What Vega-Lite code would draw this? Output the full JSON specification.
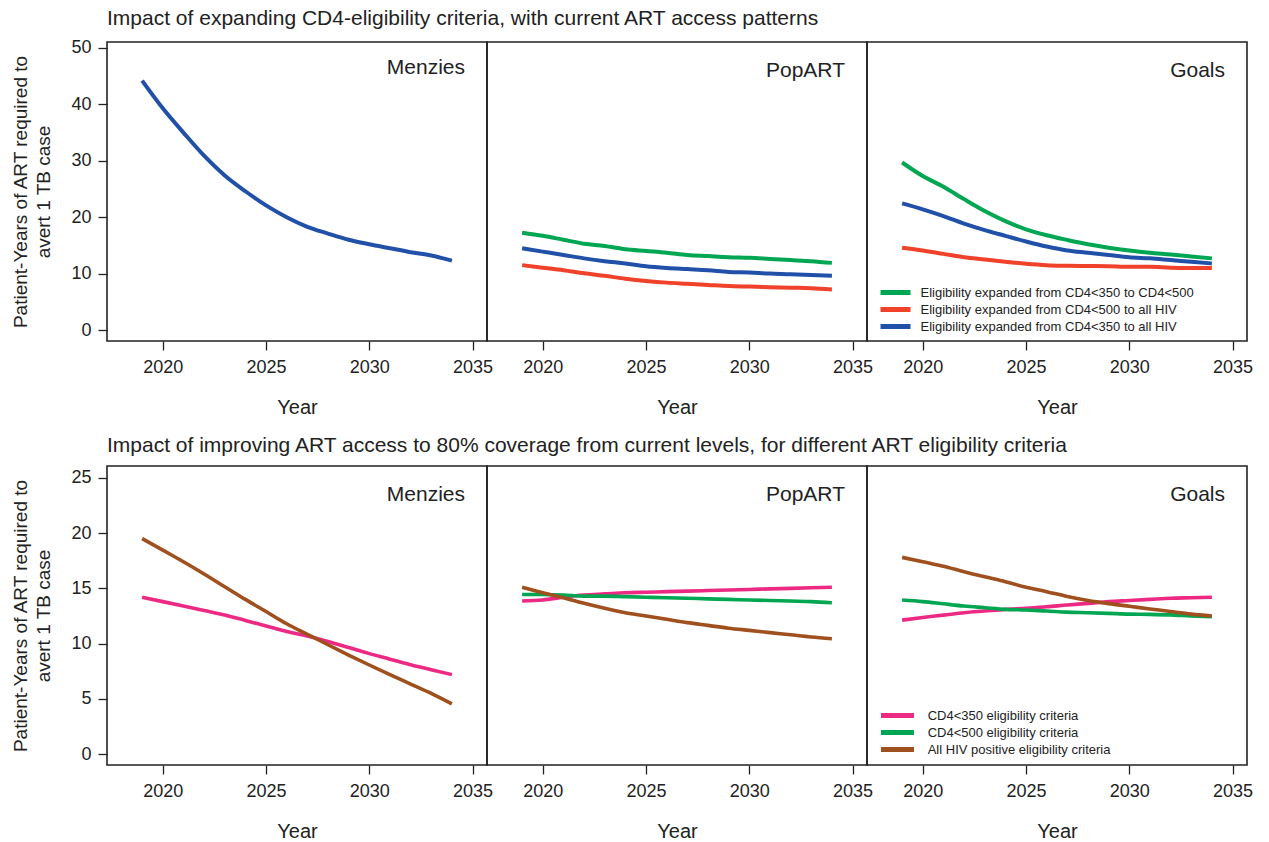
{
  "$schema": "https://vega.github.io/schema/vega-lite/v6.json",
  "padding": {"left": 11, "top": 8, "right": 6, "bottom": 0},
  "background": "white",
  "config": {
    "font": "Liberation Sans",
    "view": {"stroke": "#222222", "strokeWidth": 1.6},
    "title": {"font": "Liberation Sans", "fontWeight": "normal", "color": "#222222"},
    "axis": {"grid": false, "domain": false, "tickSize": 9, "tickColor": "#222222", "tickWidth": 1.3, "labelFont": "Liberation Sans", "labelFontSize": 18, "labelColor": "#222222", "labelFlush": false, "titleFont": "Liberation Sans", "titleFontWeight": "normal", "titleColor": "#222222"},
    "axisX": {"labelPadding": 8, "titleFontSize": 20, "titlePadding": 21},
    "axisY": {"labelPadding": 7, "titleFontSize": 19, "titlePadding": 17, "titleLineHeight": 23},
    "legend": {"labelFont": "Liberation Sans", "labelColor": "#222222", "labelLimit": 400}
  },
  "datasets": {
    "topMenzies": [
      {"series": "Eligibility expanded from CD4<350 to all HIV", "year": 2019, "value": 44.2},
      {"series": "Eligibility expanded from CD4<350 to all HIV", "year": 2020, "value": 39.3},
      {"series": "Eligibility expanded from CD4<350 to all HIV", "year": 2021, "value": 35.0},
      {"series": "Eligibility expanded from CD4<350 to all HIV", "year": 2022, "value": 30.9},
      {"series": "Eligibility expanded from CD4<350 to all HIV", "year": 2023, "value": 27.4},
      {"series": "Eligibility expanded from CD4<350 to all HIV", "year": 2024, "value": 24.6},
      {"series": "Eligibility expanded from CD4<350 to all HIV", "year": 2025, "value": 22.1},
      {"series": "Eligibility expanded from CD4<350 to all HIV", "year": 2026, "value": 20.0},
      {"series": "Eligibility expanded from CD4<350 to all HIV", "year": 2027, "value": 18.3},
      {"series": "Eligibility expanded from CD4<350 to all HIV", "year": 2028, "value": 17.1},
      {"series": "Eligibility expanded from CD4<350 to all HIV", "year": 2029, "value": 16.0},
      {"series": "Eligibility expanded from CD4<350 to all HIV", "year": 2030, "value": 15.2},
      {"series": "Eligibility expanded from CD4<350 to all HIV", "year": 2031, "value": 14.5},
      {"series": "Eligibility expanded from CD4<350 to all HIV", "year": 2032, "value": 13.8},
      {"series": "Eligibility expanded from CD4<350 to all HIV", "year": 2033, "value": 13.2},
      {"series": "Eligibility expanded from CD4<350 to all HIV", "year": 2034, "value": 12.3}
    ],
    "topPopART": [
      {"series": "Eligibility expanded from CD4<350 to CD4<500", "year": 2019, "value": 17.25},
      {"series": "Eligibility expanded from CD4<350 to CD4<500", "year": 2020, "value": 16.7},
      {"series": "Eligibility expanded from CD4<350 to CD4<500", "year": 2021, "value": 16.0},
      {"series": "Eligibility expanded from CD4<350 to CD4<500", "year": 2022, "value": 15.3},
      {"series": "Eligibility expanded from CD4<350 to CD4<500", "year": 2023, "value": 14.9},
      {"series": "Eligibility expanded from CD4<350 to CD4<500", "year": 2024, "value": 14.3},
      {"series": "Eligibility expanded from CD4<350 to CD4<500", "year": 2025, "value": 14.0},
      {"series": "Eligibility expanded from CD4<350 to CD4<500", "year": 2026, "value": 13.7},
      {"series": "Eligibility expanded from CD4<350 to CD4<500", "year": 2027, "value": 13.3},
      {"series": "Eligibility expanded from CD4<350 to CD4<500", "year": 2028, "value": 13.1},
      {"series": "Eligibility expanded from CD4<350 to CD4<500", "year": 2029, "value": 12.9},
      {"series": "Eligibility expanded from CD4<350 to CD4<500", "year": 2030, "value": 12.8},
      {"series": "Eligibility expanded from CD4<350 to CD4<500", "year": 2031, "value": 12.6},
      {"series": "Eligibility expanded from CD4<350 to CD4<500", "year": 2032, "value": 12.4},
      {"series": "Eligibility expanded from CD4<350 to CD4<500", "year": 2033, "value": 12.2},
      {"series": "Eligibility expanded from CD4<350 to CD4<500", "year": 2034, "value": 11.9},
      {"series": "Eligibility expanded from CD4<500 to all HIV", "year": 2019, "value": 11.5},
      {"series": "Eligibility expanded from CD4<500 to all HIV", "year": 2020, "value": 11.05},
      {"series": "Eligibility expanded from CD4<500 to all HIV", "year": 2021, "value": 10.6},
      {"series": "Eligibility expanded from CD4<500 to all HIV", "year": 2022, "value": 10.05},
      {"series": "Eligibility expanded from CD4<500 to all HIV", "year": 2023, "value": 9.6},
      {"series": "Eligibility expanded from CD4<500 to all HIV", "year": 2024, "value": 9.1},
      {"series": "Eligibility expanded from CD4<500 to all HIV", "year": 2025, "value": 8.7},
      {"series": "Eligibility expanded from CD4<500 to all HIV", "year": 2026, "value": 8.4},
      {"series": "Eligibility expanded from CD4<500 to all HIV", "year": 2027, "value": 8.2},
      {"series": "Eligibility expanded from CD4<500 to all HIV", "year": 2028, "value": 8.0},
      {"series": "Eligibility expanded from CD4<500 to all HIV", "year": 2029, "value": 7.8},
      {"series": "Eligibility expanded from CD4<500 to all HIV", "year": 2030, "value": 7.7},
      {"series": "Eligibility expanded from CD4<500 to all HIV", "year": 2031, "value": 7.6},
      {"series": "Eligibility expanded from CD4<500 to all HIV", "year": 2032, "value": 7.5},
      {"series": "Eligibility expanded from CD4<500 to all HIV", "year": 2033, "value": 7.4},
      {"series": "Eligibility expanded from CD4<500 to all HIV", "year": 2034, "value": 7.2},
      {"series": "Eligibility expanded from CD4<350 to all HIV", "year": 2019, "value": 14.5},
      {"series": "Eligibility expanded from CD4<350 to all HIV", "year": 2020, "value": 13.9},
      {"series": "Eligibility expanded from CD4<350 to all HIV", "year": 2021, "value": 13.3},
      {"series": "Eligibility expanded from CD4<350 to all HIV", "year": 2022, "value": 12.7},
      {"series": "Eligibility expanded from CD4<350 to all HIV", "year": 2023, "value": 12.2},
      {"series": "Eligibility expanded from CD4<350 to all HIV", "year": 2024, "value": 11.8},
      {"series": "Eligibility expanded from CD4<350 to all HIV", "year": 2025, "value": 11.3},
      {"series": "Eligibility expanded from CD4<350 to all HIV", "year": 2026, "value": 11.0},
      {"series": "Eligibility expanded from CD4<350 to all HIV", "year": 2027, "value": 10.8},
      {"series": "Eligibility expanded from CD4<350 to all HIV", "year": 2028, "value": 10.6},
      {"series": "Eligibility expanded from CD4<350 to all HIV", "year": 2029, "value": 10.3},
      {"series": "Eligibility expanded from CD4<350 to all HIV", "year": 2030, "value": 10.2},
      {"series": "Eligibility expanded from CD4<350 to all HIV", "year": 2031, "value": 10.0},
      {"series": "Eligibility expanded from CD4<350 to all HIV", "year": 2032, "value": 9.9},
      {"series": "Eligibility expanded from CD4<350 to all HIV", "year": 2033, "value": 9.75},
      {"series": "Eligibility expanded from CD4<350 to all HIV", "year": 2034, "value": 9.6}
    ],
    "topGoals": [
      {"series": "Eligibility expanded from CD4<350 to CD4<500", "year": 2019, "value": 29.7},
      {"series": "Eligibility expanded from CD4<350 to CD4<500", "year": 2020, "value": 27.3},
      {"series": "Eligibility expanded from CD4<350 to CD4<500", "year": 2021, "value": 25.4},
      {"series": "Eligibility expanded from CD4<350 to CD4<500", "year": 2022, "value": 23.2},
      {"series": "Eligibility expanded from CD4<350 to CD4<500", "year": 2023, "value": 21.1},
      {"series": "Eligibility expanded from CD4<350 to CD4<500", "year": 2024, "value": 19.3},
      {"series": "Eligibility expanded from CD4<350 to CD4<500", "year": 2025, "value": 17.85},
      {"series": "Eligibility expanded from CD4<350 to CD4<500", "year": 2026, "value": 16.8},
      {"series": "Eligibility expanded from CD4<350 to CD4<500", "year": 2027, "value": 15.96},
      {"series": "Eligibility expanded from CD4<350 to CD4<500", "year": 2028, "value": 15.2},
      {"series": "Eligibility expanded from CD4<350 to CD4<500", "year": 2029, "value": 14.6},
      {"series": "Eligibility expanded from CD4<350 to CD4<500", "year": 2030, "value": 14.1},
      {"series": "Eligibility expanded from CD4<350 to CD4<500", "year": 2031, "value": 13.7},
      {"series": "Eligibility expanded from CD4<350 to CD4<500", "year": 2032, "value": 13.4},
      {"series": "Eligibility expanded from CD4<350 to CD4<500", "year": 2033, "value": 13.05},
      {"series": "Eligibility expanded from CD4<350 to CD4<500", "year": 2034, "value": 12.7},
      {"series": "Eligibility expanded from CD4<500 to all HIV", "year": 2019, "value": 14.6},
      {"series": "Eligibility expanded from CD4<500 to all HIV", "year": 2020, "value": 14.1},
      {"series": "Eligibility expanded from CD4<500 to all HIV", "year": 2021, "value": 13.5},
      {"series": "Eligibility expanded from CD4<500 to all HIV", "year": 2022, "value": 12.9},
      {"series": "Eligibility expanded from CD4<500 to all HIV", "year": 2023, "value": 12.5},
      {"series": "Eligibility expanded from CD4<500 to all HIV", "year": 2024, "value": 12.1},
      {"series": "Eligibility expanded from CD4<500 to all HIV", "year": 2025, "value": 11.75},
      {"series": "Eligibility expanded from CD4<500 to all HIV", "year": 2026, "value": 11.5},
      {"series": "Eligibility expanded from CD4<500 to all HIV", "year": 2027, "value": 11.4},
      {"series": "Eligibility expanded from CD4<500 to all HIV", "year": 2028, "value": 11.35},
      {"series": "Eligibility expanded from CD4<500 to all HIV", "year": 2029, "value": 11.3},
      {"series": "Eligibility expanded from CD4<500 to all HIV", "year": 2030, "value": 11.2},
      {"series": "Eligibility expanded from CD4<500 to all HIV", "year": 2031, "value": 11.2},
      {"series": "Eligibility expanded from CD4<500 to all HIV", "year": 2032, "value": 11.05},
      {"series": "Eligibility expanded from CD4<500 to all HIV", "year": 2033, "value": 11.0},
      {"series": "Eligibility expanded from CD4<500 to all HIV", "year": 2034, "value": 11.0},
      {"series": "Eligibility expanded from CD4<350 to all HIV", "year": 2019, "value": 22.45},
      {"series": "Eligibility expanded from CD4<350 to all HIV", "year": 2020, "value": 21.4},
      {"series": "Eligibility expanded from CD4<350 to all HIV", "year": 2021, "value": 20.2},
      {"series": "Eligibility expanded from CD4<350 to all HIV", "year": 2022, "value": 18.85},
      {"series": "Eligibility expanded from CD4<350 to all HIV", "year": 2023, "value": 17.7},
      {"series": "Eligibility expanded from CD4<350 to all HIV", "year": 2024, "value": 16.7},
      {"series": "Eligibility expanded from CD4<350 to all HIV", "year": 2025, "value": 15.7},
      {"series": "Eligibility expanded from CD4<350 to all HIV", "year": 2026, "value": 14.8},
      {"series": "Eligibility expanded from CD4<350 to all HIV", "year": 2027, "value": 14.1},
      {"series": "Eligibility expanded from CD4<350 to all HIV", "year": 2028, "value": 13.7},
      {"series": "Eligibility expanded from CD4<350 to all HIV", "year": 2029, "value": 13.3},
      {"series": "Eligibility expanded from CD4<350 to all HIV", "year": 2030, "value": 12.9},
      {"series": "Eligibility expanded from CD4<350 to all HIV", "year": 2031, "value": 12.7},
      {"series": "Eligibility expanded from CD4<350 to all HIV", "year": 2032, "value": 12.4},
      {"series": "Eligibility expanded from CD4<350 to all HIV", "year": 2033, "value": 12.1},
      {"series": "Eligibility expanded from CD4<350 to all HIV", "year": 2034, "value": 11.8}
    ],
    "bottomMenzies": [
      {"series": "CD4<350 eligibility criteria", "year": 2019, "value": 14.2},
      {"series": "CD4<350 eligibility criteria", "year": 2020, "value": 13.8},
      {"series": "CD4<350 eligibility criteria", "year": 2021, "value": 13.4},
      {"series": "CD4<350 eligibility criteria", "year": 2022, "value": 13.0},
      {"series": "CD4<350 eligibility criteria", "year": 2023, "value": 12.6},
      {"series": "CD4<350 eligibility criteria", "year": 2024, "value": 12.1},
      {"series": "CD4<350 eligibility criteria", "year": 2025, "value": 11.6},
      {"series": "CD4<350 eligibility criteria", "year": 2026, "value": 11.1},
      {"series": "CD4<350 eligibility criteria", "year": 2027, "value": 10.7},
      {"series": "CD4<350 eligibility criteria", "year": 2028, "value": 10.2},
      {"series": "CD4<350 eligibility criteria", "year": 2029, "value": 9.65},
      {"series": "CD4<350 eligibility criteria", "year": 2030, "value": 9.1},
      {"series": "CD4<350 eligibility criteria", "year": 2031, "value": 8.6},
      {"series": "CD4<350 eligibility criteria", "year": 2032, "value": 8.1},
      {"series": "CD4<350 eligibility criteria", "year": 2033, "value": 7.65},
      {"series": "CD4<350 eligibility criteria", "year": 2034, "value": 7.2},
      {"series": "All HIV positive eligibility criteria", "year": 2019, "value": 19.5},
      {"series": "All HIV positive eligibility criteria", "year": 2020, "value": 18.45},
      {"series": "All HIV positive eligibility criteria", "year": 2021, "value": 17.4},
      {"series": "All HIV positive eligibility criteria", "year": 2022, "value": 16.3},
      {"series": "All HIV positive eligibility criteria", "year": 2023, "value": 15.15},
      {"series": "All HIV positive eligibility criteria", "year": 2024, "value": 14.0},
      {"series": "All HIV positive eligibility criteria", "year": 2025, "value": 12.9},
      {"series": "All HIV positive eligibility criteria", "year": 2026, "value": 11.8},
      {"series": "All HIV positive eligibility criteria", "year": 2027, "value": 10.85},
      {"series": "All HIV positive eligibility criteria", "year": 2028, "value": 9.9},
      {"series": "All HIV positive eligibility criteria", "year": 2029, "value": 8.97},
      {"series": "All HIV positive eligibility criteria", "year": 2030, "value": 8.07},
      {"series": "All HIV positive eligibility criteria", "year": 2031, "value": 7.2},
      {"series": "All HIV positive eligibility criteria", "year": 2032, "value": 6.35},
      {"series": "All HIV positive eligibility criteria", "year": 2033, "value": 5.5},
      {"series": "All HIV positive eligibility criteria", "year": 2034, "value": 4.55}
    ],
    "bottomPopART": [
      {"series": "CD4<350 eligibility criteria", "year": 2019, "value": 13.85},
      {"series": "CD4<350 eligibility criteria", "year": 2020, "value": 13.95},
      {"series": "CD4<350 eligibility criteria", "year": 2021, "value": 14.2},
      {"series": "CD4<350 eligibility criteria", "year": 2022, "value": 14.4},
      {"series": "CD4<350 eligibility criteria", "year": 2023, "value": 14.5},
      {"series": "CD4<350 eligibility criteria", "year": 2024, "value": 14.6},
      {"series": "CD4<350 eligibility criteria", "year": 2025, "value": 14.65},
      {"series": "CD4<350 eligibility criteria", "year": 2026, "value": 14.7},
      {"series": "CD4<350 eligibility criteria", "year": 2027, "value": 14.75},
      {"series": "CD4<350 eligibility criteria", "year": 2028, "value": 14.8},
      {"series": "CD4<350 eligibility criteria", "year": 2029, "value": 14.85},
      {"series": "CD4<350 eligibility criteria", "year": 2030, "value": 14.9},
      {"series": "CD4<350 eligibility criteria", "year": 2031, "value": 14.95},
      {"series": "CD4<350 eligibility criteria", "year": 2032, "value": 15.0},
      {"series": "CD4<350 eligibility criteria", "year": 2033, "value": 15.05},
      {"series": "CD4<350 eligibility criteria", "year": 2034, "value": 15.1},
      {"series": "CD4<500 eligibility criteria", "year": 2019, "value": 14.45},
      {"series": "CD4<500 eligibility criteria", "year": 2020, "value": 14.45},
      {"series": "CD4<500 eligibility criteria", "year": 2021, "value": 14.4},
      {"series": "CD4<500 eligibility criteria", "year": 2022, "value": 14.3},
      {"series": "CD4<500 eligibility criteria", "year": 2023, "value": 14.3},
      {"series": "CD4<500 eligibility criteria", "year": 2024, "value": 14.25},
      {"series": "CD4<500 eligibility criteria", "year": 2025, "value": 14.2},
      {"series": "CD4<500 eligibility criteria", "year": 2026, "value": 14.15},
      {"series": "CD4<500 eligibility criteria", "year": 2027, "value": 14.1},
      {"series": "CD4<500 eligibility criteria", "year": 2028, "value": 14.05},
      {"series": "CD4<500 eligibility criteria", "year": 2029, "value": 14.0},
      {"series": "CD4<500 eligibility criteria", "year": 2030, "value": 13.95},
      {"series": "CD4<500 eligibility criteria", "year": 2031, "value": 13.9},
      {"series": "CD4<500 eligibility criteria", "year": 2032, "value": 13.85},
      {"series": "CD4<500 eligibility criteria", "year": 2033, "value": 13.8},
      {"series": "CD4<500 eligibility criteria", "year": 2034, "value": 13.7},
      {"series": "All HIV positive eligibility criteria", "year": 2019, "value": 15.1},
      {"series": "All HIV positive eligibility criteria", "year": 2020, "value": 14.6},
      {"series": "All HIV positive eligibility criteria", "year": 2021, "value": 14.15},
      {"series": "All HIV positive eligibility criteria", "year": 2022, "value": 13.65},
      {"series": "All HIV positive eligibility criteria", "year": 2023, "value": 13.2},
      {"series": "All HIV positive eligibility criteria", "year": 2024, "value": 12.8},
      {"series": "All HIV positive eligibility criteria", "year": 2025, "value": 12.5},
      {"series": "All HIV positive eligibility criteria", "year": 2026, "value": 12.2},
      {"series": "All HIV positive eligibility criteria", "year": 2027, "value": 11.9},
      {"series": "All HIV positive eligibility criteria", "year": 2028, "value": 11.65},
      {"series": "All HIV positive eligibility criteria", "year": 2029, "value": 11.4},
      {"series": "All HIV positive eligibility criteria", "year": 2030, "value": 11.2},
      {"series": "All HIV positive eligibility criteria", "year": 2031, "value": 11.0},
      {"series": "All HIV positive eligibility criteria", "year": 2032, "value": 10.8},
      {"series": "All HIV positive eligibility criteria", "year": 2033, "value": 10.6},
      {"series": "All HIV positive eligibility criteria", "year": 2034, "value": 10.45}
    ],
    "bottomGoals": [
      {"series": "CD4<350 eligibility criteria", "year": 2019, "value": 12.13},
      {"series": "CD4<350 eligibility criteria", "year": 2020, "value": 12.37},
      {"series": "CD4<350 eligibility criteria", "year": 2021, "value": 12.58},
      {"series": "CD4<350 eligibility criteria", "year": 2022, "value": 12.8},
      {"series": "CD4<350 eligibility criteria", "year": 2023, "value": 12.95},
      {"series": "CD4<350 eligibility criteria", "year": 2024, "value": 13.1},
      {"series": "CD4<350 eligibility criteria", "year": 2025, "value": 13.2},
      {"series": "CD4<350 eligibility criteria", "year": 2026, "value": 13.33},
      {"series": "CD4<350 eligibility criteria", "year": 2027, "value": 13.5},
      {"series": "CD4<350 eligibility criteria", "year": 2028, "value": 13.64},
      {"series": "CD4<350 eligibility criteria", "year": 2029, "value": 13.8},
      {"series": "CD4<350 eligibility criteria", "year": 2030, "value": 13.9},
      {"series": "CD4<350 eligibility criteria", "year": 2031, "value": 14.0},
      {"series": "CD4<350 eligibility criteria", "year": 2032, "value": 14.1},
      {"series": "CD4<350 eligibility criteria", "year": 2033, "value": 14.15},
      {"series": "CD4<350 eligibility criteria", "year": 2034, "value": 14.2},
      {"series": "CD4<500 eligibility criteria", "year": 2019, "value": 13.94},
      {"series": "CD4<500 eligibility criteria", "year": 2020, "value": 13.8},
      {"series": "CD4<500 eligibility criteria", "year": 2021, "value": 13.6},
      {"series": "CD4<500 eligibility criteria", "year": 2022, "value": 13.4},
      {"series": "CD4<500 eligibility criteria", "year": 2023, "value": 13.25},
      {"series": "CD4<500 eligibility criteria", "year": 2024, "value": 13.1},
      {"series": "CD4<500 eligibility criteria", "year": 2025, "value": 13.04},
      {"series": "CD4<500 eligibility criteria", "year": 2026, "value": 12.95},
      {"series": "CD4<500 eligibility criteria", "year": 2027, "value": 12.85},
      {"series": "CD4<500 eligibility criteria", "year": 2028, "value": 12.8},
      {"series": "CD4<500 eligibility criteria", "year": 2029, "value": 12.74},
      {"series": "CD4<500 eligibility criteria", "year": 2030, "value": 12.67},
      {"series": "CD4<500 eligibility criteria", "year": 2031, "value": 12.65},
      {"series": "CD4<500 eligibility criteria", "year": 2032, "value": 12.6},
      {"series": "CD4<500 eligibility criteria", "year": 2033, "value": 12.5},
      {"series": "CD4<500 eligibility criteria", "year": 2034, "value": 12.43},
      {"series": "All HIV positive eligibility criteria", "year": 2019, "value": 17.8},
      {"series": "All HIV positive eligibility criteria", "year": 2020, "value": 17.4},
      {"series": "All HIV positive eligibility criteria", "year": 2021, "value": 17.0},
      {"series": "All HIV positive eligibility criteria", "year": 2022, "value": 16.5},
      {"series": "All HIV positive eligibility criteria", "year": 2023, "value": 16.04},
      {"series": "All HIV positive eligibility criteria", "year": 2024, "value": 15.6},
      {"series": "All HIV positive eligibility criteria", "year": 2025, "value": 15.1},
      {"series": "All HIV positive eligibility criteria", "year": 2026, "value": 14.7},
      {"series": "All HIV positive eligibility criteria", "year": 2027, "value": 14.26},
      {"series": "All HIV positive eligibility criteria", "year": 2028, "value": 13.9},
      {"series": "All HIV positive eligibility criteria", "year": 2029, "value": 13.62},
      {"series": "All HIV positive eligibility criteria", "year": 2030, "value": 13.38},
      {"series": "All HIV positive eligibility criteria", "year": 2031, "value": 13.14},
      {"series": "All HIV positive eligibility criteria", "year": 2032, "value": 12.9},
      {"series": "All HIV positive eligibility criteria", "year": 2033, "value": 12.67},
      {"series": "All HIV positive eligibility criteria", "year": 2034, "value": 12.5}
    ]
  },
  "spacing": 17,
  "resolve": {"scale": {"color": "independent", "x": "independent", "y": "independent"}, "legend": {"color": "independent"}},
  "vconcat": [
    {
      "title": {"text": "Impact of expanding CD4-eligibility criteria, with current ART access patterns", "anchor": "start", "frame": "group", "fontSize": 21, "offset": -8, "baseline": "alphabetic"},
      "spacing": 0,
      "bounds": "flush",
      "resolve": {"scale": {"color": "independent", "x": "independent", "y": "independent"}, "legend": {"color": "independent"}},
      "hconcat": [
        {
          "data": {"name": "topMenzies"},
          "width": 380, "height": 299,
          "title": {"text": "Menzies", "anchor": "end", "frame": "group", "fontSize": 21, "offset": -56, "baseline": "alphabetic", "dx": -22},
          "mark": {"type": "line", "strokeWidth": 4, "interpolate": "monotone"},
          "encoding": {
            "x": {"field": "year", "type": "quantitative", "scale": {"domain": [2017.3, 2035.7], "nice": false, "zero": false}, "axis": {"values": [2020, 2025, 2030, 2035], "format": "d", "title": "Year"}},
            "y": {"field": "value", "type": "quantitative", "scale": {"domain": [-1.95, 51.06], "nice": false, "zero": false}, "axis": {"values": [0, 10, 20, 30, 40, 50], "title": ["Patient-Years of ART required to", "avert 1 TB case"]}},
            "color": {"field": "series", "type": "nominal", "scale": {"domain": ["Eligibility expanded from CD4<350 to CD4<500", "Eligibility expanded from CD4<500 to all HIV", "Eligibility expanded from CD4<350 to all HIV"], "range": ["#00a651", "#f0412a", "#2150a8"]}, "legend": null}
          }
        },
        {
          "data": {"name": "topPopART"},
          "width": 380, "height": 299,
          "title": {"text": "PopART", "anchor": "end", "frame": "group", "fontSize": 21, "offset": -56, "baseline": "alphabetic", "dx": -22},
          "mark": {"type": "line", "strokeWidth": 4, "interpolate": "monotone"},
          "encoding": {
            "x": {"field": "year", "type": "quantitative", "scale": {"domain": [2017.3, 2035.7], "nice": false, "zero": false}, "axis": {"values": [2020, 2025, 2030, 2035], "format": "d", "title": "Year"}},
            "y": {"field": "value", "type": "quantitative", "scale": {"domain": [-1.95, 51.06], "nice": false, "zero": false}, "axis": null},
            "color": {"field": "series", "type": "nominal", "scale": {"domain": ["Eligibility expanded from CD4<350 to CD4<500", "Eligibility expanded from CD4<500 to all HIV", "Eligibility expanded from CD4<350 to all HIV"], "range": ["#00a651", "#f0412a", "#2150a8"]}, "legend": null}
          }
        },
        {
          "data": {"name": "topGoals"},
          "width": 380, "height": 299,
          "title": {"text": "Goals", "anchor": "end", "frame": "group", "fontSize": 21, "offset": -56, "baseline": "alphabetic", "dx": -22},
          "mark": {"type": "line", "strokeWidth": 4, "interpolate": "monotone"},
          "encoding": {
            "x": {"field": "year", "type": "quantitative", "scale": {"domain": [2017.3, 2035.7], "nice": false, "zero": false}, "axis": {"values": [2020, 2025, 2030, 2035], "format": "d", "title": "Year"}},
            "y": {"field": "value", "type": "quantitative", "scale": {"domain": [-1.95, 51.06], "nice": false, "zero": false}, "axis": null},
            "color": {"field": "series", "type": "nominal", "scale": {"domain": ["Eligibility expanded from CD4<350 to CD4<500", "Eligibility expanded from CD4<500 to all HIV", "Eligibility expanded from CD4<350 to all HIV"], "range": ["#00a651", "#f0412a", "#2150a8"]},
              "legend": {"orient": "bottom-left", "title": null, "symbolType": "M0.67,0H10.67", "symbolSize": 36, "symbolStrokeWidth": 5, "labelFontSize": 13, "labelOffset": 35.5, "rowPadding": -6, "offset": 4.5, "padding": 0}}
          }
        }
      ]
    },
    {
      "title": {"text": "Impact of improving ART access to 80% coverage from current levels, for different ART eligibility criteria", "anchor": "start", "frame": "group", "fontSize": 21, "offset": -8, "baseline": "alphabetic"},
      "spacing": 0,
      "bounds": "flush",
      "resolve": {"scale": {"color": "independent", "x": "independent", "y": "independent"}, "legend": {"color": "independent"}},
      "hconcat": [
        {
          "data": {"name": "bottomMenzies"},
          "width": 380, "height": 299,
          "title": {"text": "Menzies", "anchor": "end", "frame": "group", "fontSize": 21, "offset": -56, "baseline": "alphabetic", "dx": -22},
          "mark": {"type": "line", "strokeWidth": 3.6, "interpolate": "monotone"},
          "encoding": {
            "x": {"field": "year", "type": "quantitative", "scale": {"domain": [2017.3, 2035.7], "nice": false, "zero": false}, "axis": {"values": [2020, 2025, 2030, 2035], "format": "d", "title": "Year"}},
            "y": {"field": "value", "type": "quantitative", "scale": {"domain": [-0.97, 26.06], "nice": false, "zero": false}, "axis": {"values": [0, 5, 10, 15, 20, 25], "title": ["Patient-Years of ART required to", "avert 1 TB case"]}},
            "color": {"field": "series", "type": "nominal", "scale": {"domain": ["CD4<350 eligibility criteria", "CD4<500 eligibility criteria", "All HIV positive eligibility criteria"], "range": ["#ec2a84", "#00a651", "#a0501e"]}, "legend": null}
          }
        },
        {
          "data": {"name": "bottomPopART"},
          "width": 380, "height": 299,
          "title": {"text": "PopART", "anchor": "end", "frame": "group", "fontSize": 21, "offset": -56, "baseline": "alphabetic", "dx": -22},
          "mark": {"type": "line", "strokeWidth": 3.6, "interpolate": "monotone"},
          "encoding": {
            "x": {"field": "year", "type": "quantitative", "scale": {"domain": [2017.3, 2035.7], "nice": false, "zero": false}, "axis": {"values": [2020, 2025, 2030, 2035], "format": "d", "title": "Year"}},
            "y": {"field": "value", "type": "quantitative", "scale": {"domain": [-0.97, 26.06], "nice": false, "zero": false}, "axis": null},
            "color": {"field": "series", "type": "nominal", "scale": {"domain": ["CD4<350 eligibility criteria", "CD4<500 eligibility criteria", "All HIV positive eligibility criteria"], "range": ["#ec2a84", "#00a651", "#a0501e"]}, "legend": null}
          }
        },
        {
          "data": {"name": "bottomGoals"},
          "width": 380, "height": 299,
          "title": {"text": "Goals", "anchor": "end", "frame": "group", "fontSize": 21, "offset": -56, "baseline": "alphabetic", "dx": -22},
          "mark": {"type": "line", "strokeWidth": 3.6, "interpolate": "monotone"},
          "encoding": {
            "x": {"field": "year", "type": "quantitative", "scale": {"domain": [2017.3, 2035.7], "nice": false, "zero": false}, "axis": {"values": [2020, 2025, 2030, 2035], "format": "d", "title": "Year"}},
            "y": {"field": "value", "type": "quantitative", "scale": {"domain": [-0.97, 26.06], "nice": false, "zero": false}, "axis": null},
            "color": {"field": "series", "type": "nominal", "scale": {"domain": ["CD4<350 eligibility criteria", "CD4<500 eligibility criteria", "All HIV positive eligibility criteria"], "range": ["#ec2a84", "#00a651", "#a0501e"]},
              "legend": {"orient": "bottom-left", "title": null, "symbolType": "M0.83,0H11.83", "symbolSize": 36, "symbolStrokeWidth": 5, "labelFontSize": 13, "labelOffset": 42.7, "rowPadding": -4, "offset": 5, "padding": 0}}
          }
        }
      ]
    }
  ]
}
